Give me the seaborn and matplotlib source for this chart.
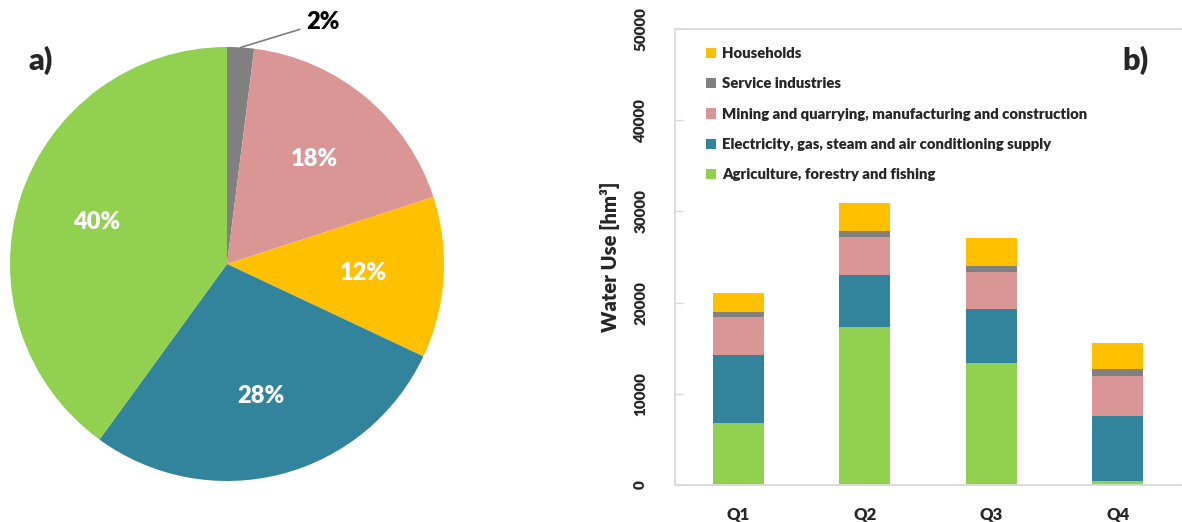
import numpy as np
import pandas as pd
import seaborn as sns
import matplotlib
matplotlib.use("Agg")
import matplotlib.pyplot as plt
from matplotlib.patches import Patch

# Water use by economic sector, quarterly (hm³)
quarters = ["Q1", "Q2", "Q3", "Q4"]
agriculture = [6800, 17300, 13400, 450]
electricity = [7500, 5780, 5900, 7150]
mining = [4100, 4160, 4100, 4400]
services = [600, 620, 600, 700]
households = [2050, 3030, 3100, 2850]

sectors = [
    "Agriculture, forestry and fishing",
    "Electricity, gas, steam and air conditioning supply",
    "Mining and quarrying, manufacturing and construction",
    "Service industries",
    "Households",
]
sector_colors = ["#92D050", "#31849B", "#DA9694", "#808080", "#FFC000"]

# Annual shares (%) shown in the pie, clockwise from the top
pie_labels = ["Service industries", "Mining", "Households", "Electricity", "Agriculture"]
pie_shares = [2, 18, 12, 28, 40]
pie_colors = ["#808080", "#DA9694", "#FFC000", "#31849B", "#92D050"]

sns.set_theme(style="white")
plt.rcParams["font.family"] = ["Lato", "DejaVu Sans"]
WEIGHT = "heavy"
plt.rcParams["font.weight"] = WEIGHT

W, H = 1182, 522
fig = plt.figure(figsize=(W / 100, H / 100), dpi=100)

# ---------------- a) pie ----------------
axp = fig.add_axes([10 / W, 1 - 481 / H, 434 / W, 434 / H])
wedges, _ = axp.pie(pie_shares, colors=pie_colors, startangle=90,
                    counterclock=False, radius=1.0,
                    wedgeprops=dict(linewidth=0))
axp.set_xlim(-1, 1)
axp.set_ylim(-1, 1)
axp.set_aspect("equal")
axp.axis("off")

for w, share in zip(wedges, pie_shares):
    mid = np.deg2rad((w.theta1 + w.theta2) / 2)
    x, y = np.cos(mid), np.sin(mid)
    if share >= 5:
        axp.text(0.63 * x, 0.63 * y, f"{share}%", color="white",
                 fontsize=17, fontweight=WEIGHT, ha="center", va="center")
    else:
        axp.annotate(f"{share}%", xy=(x, y), xytext=(0.44, 1.115),
                     fontsize=17, fontweight=WEIGHT, color="black",
                     ha="center", va="center", annotation_clip=False,
                     arrowprops=dict(arrowstyle="-", color="#7f7f7f", lw=1.2,
                                     relpos=(0.0, 0.25), shrinkA=2, shrinkB=0))

fig.text(41 / W, 1 - 60 / H, "a)", fontsize=22, fontweight=WEIGHT,
         ha="center", va="center")

# ---------------- b) stacked bars ----------------
axb = fig.add_axes([675 / W, 1 - 485 / H, (1181 - 675) / W, (485 - 29) / H])

layers = [agriculture, electricity, mining, services, households]
cum = np.zeros(len(quarters))
tops = []
for vals in layers:
    cum = cum + np.array(vals)
    tops.append(cum.copy())

# draw cumulative totals from the tallest down so each segment shows its own share
for top, col in reversed(list(zip(tops, sector_colors))):
    d = pd.DataFrame({"quarter": quarters, "value": top})
    sns.barplot(data=d, x="quarter", y="value", color=col, width=0.4,
                saturation=1, linewidth=0, ax=axb)

axb.set_xlim(-0.5, 3.5)
axb.set_ylim(0, 50000)
axb.set_yticks(np.arange(0, 50001, 10000))
axb.set_yticklabels([str(v) for v in range(0, 50001, 10000)], rotation=90,
                    va="center", fontsize=11, fontweight=WEIGHT)
axb.set_xticks(range(len(quarters)))
axb.set_xticklabels(quarters, fontsize=12, fontweight=WEIGHT)
axb.set_xlabel("")
axb.set_ylabel("Water Use [hm³]", fontsize=14.5, fontweight=WEIGHT, labelpad=10)
axb.tick_params(axis="y", direction="in", length=6, width=1, color="#d9d9d9",
                left=True, pad=20)
axb.tick_params(axis="x", length=0, pad=16)
for side in ["left", "bottom", "top"]:
    axb.spines[side].set_color("#d9d9d9")
    axb.spines[side].set_linewidth(1.3)
axb.spines["right"].set_visible(False)

handles = [Patch(facecolor=c, edgecolor="none") for c in sector_colors][::-1]
leg = axb.legend(handles, sectors[::-1], loc="upper left",
                 bbox_to_anchor=(0.035, 0.99), frameon=False,
                 prop=dict(size=10.7, weight=WEIGHT), handlelength=0.7,
                 handleheight=0.7, handletextpad=0.4, labelspacing=1.17)

fig.text(1136 / W, 1 - 60 / H, "b)", fontsize=22, fontweight=WEIGHT,
         ha="center", va="center")

fig.savefig("out.png", dpi=100)
